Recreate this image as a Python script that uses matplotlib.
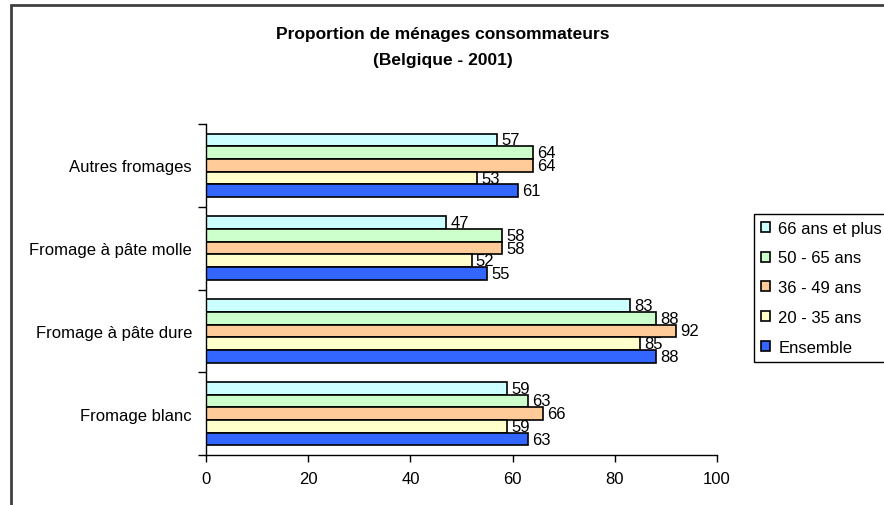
import matplotlib
matplotlib.use("Agg")
import matplotlib.pyplot as plt
import numpy as np
from matplotlib.patches import Rectangle

plt.rcParams['font.family'] = ['Liberation Sans', 'DejaVu Sans']

categories = ["Fromage blanc", "Fromage à pâte dure", "Fromage à pâte molle", "Autres fromages"]
series_names = ["66 ans et plus", "50 - 65 ans", "36 - 49 ans", "20 - 35 ans", "Ensemble"]
values = {
    "66 ans et plus": [59, 83, 47, 57],
    "50 - 65 ans":    [63, 88, 58, 64],
    "36 - 49 ans":    [66, 92, 58, 64],
    "20 - 35 ans":    [59, 85, 52, 53],
    "Ensemble":       [63, 88, 55, 61],
}
colors = ["#CCFFFF", "#CCFFCC", "#FFCC99", "#FFFFCC", "#3366FF"]
xticks = [0, 20, 40, 60, 80, 100]

W, H = 884, 506
fig = plt.figure(figsize=(W/100, H/100), dpi=100)
ax = fig.add_axes([206/W, 1-456/H, (717-206)/W, (456-125)/H])

FS = 12
h = 0.77/5
y0 = np.arange(len(categories))
handles = []
for i, name in enumerate(series_names):
    ys = y0 + (2 - i) * h
    b = ax.barh(ys, values[name], height=h, color=colors[i], edgecolor="black",
                linewidth=1.2, label=name)
    handles.append(b)
    for y, v in zip(ys, values[name]):
        ax.text(v + 0.8, y, f"{v}", va="center", ha="left", fontsize=FS, color="black")

ax.set_xlim(0, 100)
ax.set_ylim(-0.5, len(categories) - 0.5)
ax.set_xticks(xticks)
ax.set_xticklabels([str(t) for t in xticks], fontsize=FS)
ax.set_yticks(y0)
ax.set_yticklabels(categories, fontsize=FS)
ax.tick_params(axis="y", which="major", length=0, pad=10)
ax.set_yticks(np.arange(-0.5, len(categories)), minor=True)
ax.tick_params(axis="y", which="minor", length=6, width=1, direction="out")
ax.tick_params(axis="x", length=5, width=1, direction="out", pad=6.5)
for s in ["top", "right"]:
    ax.spines[s].set_visible(False)
for s in ["left", "bottom"]:
    ax.spines[s].set_linewidth(1)

fig.text(443/W, 1-34.5/H, "Proportion de ménages consommateurs", ha="center", va="center",
         fontsize=12.5, fontweight="bold")
fig.text(443/W, 1-60.5/H, "(Belgique - 2001)", ha="center", va="center",
         fontsize=12.5, fontweight="bold")

leg = fig.legend(handles=handles, labels=series_names, loc="upper left",
                 bbox_to_anchor=(754/W, 1-215/H), frameon=True, fancybox=False,
                 edgecolor="black", framealpha=1, fontsize=FS, handlelength=0.55,
                 handleheight=0.55, handletextpad=0.5, labelspacing=0.89,
                 borderpad=0.4, borderaxespad=0)
leg.get_frame().set_linewidth(1)

# outer chart border
fig.add_artist(Rectangle((10.5/W, -0.1), 1.2, 1 - 5.5/H + 0.1, transform=fig.transFigure,
                         fill=False, edgecolor="#404040", linewidth=2))

fig.savefig("out.png", dpi=100)
